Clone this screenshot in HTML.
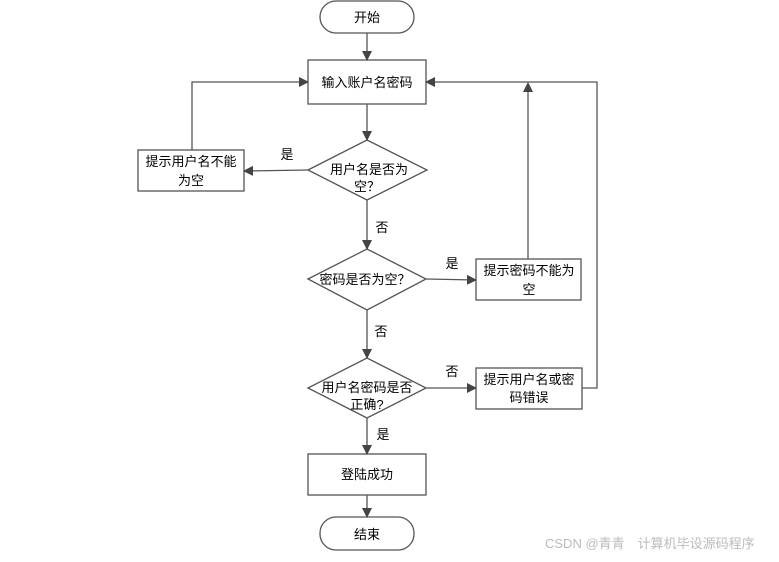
<!DOCTYPE html>
<html><head><meta charset="utf-8"><style>
body{margin:0;background:#fff;width:779px;height:557px;overflow:hidden}
text{font-family:"Liberation Sans","Noto Sans CJK SC",sans-serif;font-size:13px;fill:#000}
</style></head><body>
<svg width="779" height="557" xmlns="http://www.w3.org/2000/svg">
<defs><marker id="a" markerWidth="10" markerHeight="10" refX="9" refY="5" orient="auto" markerUnits="userSpaceOnUse"><path d="M0,0 L10,5 L0,10 z" fill="#444"/></marker></defs>
<g stroke="#555" stroke-width="1.3" fill="#fff">
<rect x="320" y="1" width="94" height="32" rx="16"/>
<rect x="308" y="60" width="118" height="44"/>
<polygon points="308,170 367,140 427,170 367,200"/>
<rect x="138" y="150" width="106" height="41"/>
<polygon points="308,279 367,249 426,279 367,310"/>
<rect x="476" y="259" width="105" height="41"/>
<polygon points="308,388 367,358 426,388 367,418"/>
<rect x="476" y="368" width="106" height="41"/>
<rect x="308" y="454" width="118" height="41"/>
<rect x="320" y="517" width="94" height="33" rx="16"/>
</g>
<g stroke="#555" stroke-width="1.3" fill="none" marker-end="url(#a)">
<line x1="367" y1="33" x2="367" y2="60"/>
<line x1="367" y1="104" x2="367" y2="140"/>
<line x1="308" y1="170" x2="244" y2="171"/>
<polyline points="192,150 192,82 308,82"/>
<line x1="367" y1="200" x2="367" y2="249"/>
<line x1="426" y1="279" x2="476" y2="280"/>
<line x1="528" y1="259" x2="528" y2="83"/>
<line x1="367" y1="310" x2="367" y2="358"/>
<line x1="426" y1="388" x2="476" y2="388"/>
<polyline points="582,388 597,388 597,82 426,82"/>
<line x1="367" y1="418" x2="367" y2="454"/>
<line x1="367" y1="495" x2="367" y2="517"/>
</g>
<g text-anchor="middle">
<text x="367" y="22">开始</text>
<text x="367" y="87">输入账户名密码</text>
<text x="369" y="174">用户名是否为</text>
<text x="367" y="191">空？</text>
<text x="191" y="166">提示用户名不能</text>
<text x="191" y="185">为空</text>
<text x="365" y="284">密码是否为空？</text>
<text x="529" y="275">提示密码不能为</text>
<text x="529" y="294">空</text>
<text x="367" y="392">用户名密码是否</text>
<text x="367" y="409">正确?</text>
<text x="529" y="384">提示用户名或密</text>
<text x="529" y="402">码错误</text>
<text x="367" y="479">登陆成功</text>
<text x="367" y="539">结束</text>
<text x="287" y="159">是</text>
<text x="382" y="232">否</text>
<text x="452" y="268">是</text>
<text x="381" y="336">否</text>
<text x="452" y="376">否</text>
<text x="383" y="439">是</text>
</g>
<text x="545" y="548" style="fill:#bbb;font-size:13px">CSDN @青青　计算机毕设源码程序</text>
</svg>
</body></html>
